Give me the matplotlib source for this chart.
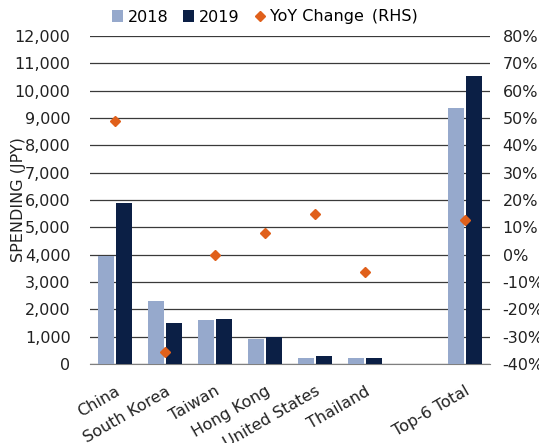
import matplotlib
matplotlib.use("Agg")
import matplotlib.pyplot as plt
from matplotlib.ticker import FuncFormatter
import numpy as np

categories = ["China", "South Korea", "Taiwan", "Hong Kong", "United States", "Thailand", "", "Top-6 Total"]
spend_2018 = [3950, 2300, 1610, 915, 220, 220, None, 9370]
spend_2019 = [5890, 1500, 1630, 990, 290, 210, None, 10540]
yoy_change = [49, -35.5, 0, 8, 15, -6.3, None, 12.7]

plt.rcParams['font.family'] = ['DejaVu Sans']
c2018 = '#96A9CC'
c2019 = '#0B1F45'
cyoy = '#E0601B'
tc = '#222222'

fig = plt.figure(figsize=(5.39, 4.43), dpi=100)
ax = fig.add_axes([90/539, 1-364/443, 400/539, 328/443])
ax2 = ax.twinx()

x = np.arange(len(categories))
idx = [i for i, v in enumerate(spend_2018) if v is not None]
w = 0.33
ax.bar([x[i] - 0.18 for i in idx], [spend_2018[i] for i in idx], width=w, color=c2018, label='2018', zorder=3)
ax.bar([x[i] + 0.18 for i in idx], [spend_2019[i] for i in idx], width=w, color=c2019, label='2019', zorder=3)
ax2.plot([x[i] for i in idx], [yoy_change[i] for i in idx], linestyle='none', marker='D',
         markersize=5.5, color=cyoy, label='YoY Change\u2002(RHS)', zorder=4)

ax.set_xlim(-0.5, len(categories) - 0.5)
ax.set_ylim(0, 12000)
ax.set_yticks(np.arange(0, 12001, 1000))
ax.yaxis.set_major_formatter(FuncFormatter(lambda v, p: f"{int(v):,}"))
ax2.set_ylim(-40, 80)
ax2.set_yticks(np.arange(-40, 81, 10))
ax2.yaxis.set_major_formatter(FuncFormatter(lambda v, p: f"{int(v)}%"))

ax.grid(axis='y', color='#3a3a3a', linewidth=0.9, zorder=0)
ax.set_axisbelow(True)
for a in (ax, ax2):
    for s in a.spines.values():
        s.set_visible(False)
    a.tick_params(length=0, labelsize=11.5, colors=tc)
ax.spines['bottom'].set_visible(True)
ax.spines['bottom'].set_color('#7f7f7f')
ax.tick_params(axis='y', pad=14)
ax2.tick_params(axis='y', pad=9)

ax.set_xticks(x)
ax.set_xticklabels(categories, rotation=30, ha='right', rotation_mode='anchor', fontsize=11.5)
ax.tick_params(axis='x', pad=14)

ax.set_ylabel('SPENDING (JPY)', fontsize=11.5, color=tc)
ax.yaxis.set_label_coords(-0.16, 0.5)

h1, l1 = ax.get_legend_handles_labels()
h2, l2 = ax2.get_legend_handles_labels()
fig.legend(h1 + h2, l1 + l2, loc='center', bbox_to_anchor=(265/539, 1 - 17/443), ncol=3, frameon=False,
           fontsize=11.5, handlelength=0.7, handletextpad=0.3, columnspacing=0.9)

fig.savefig('out.png', dpi=100)
